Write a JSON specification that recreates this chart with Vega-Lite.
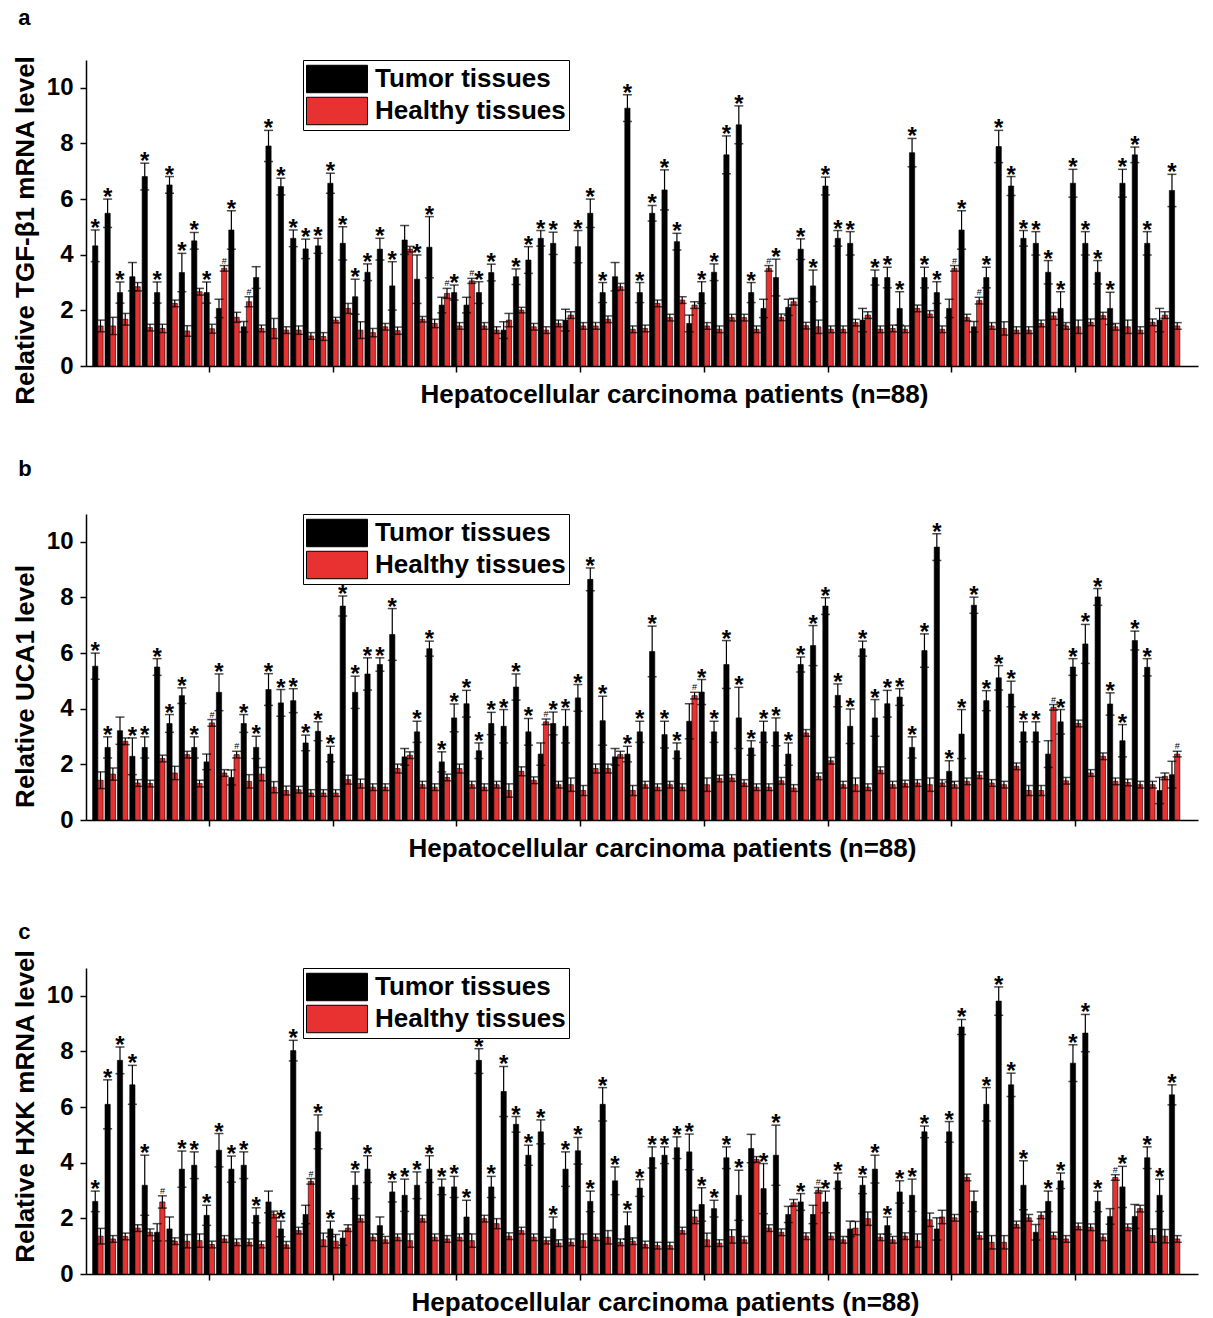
{
"$schema":"https://vega.github.io/schema/vega-lite/v6.json",
"background":"white",
"padding":{"left":12,"top":7,"right":5,"bottom":0},
"bounds":"flush",
"spacing":148,
"config":{
 "view":{"stroke":null},
 "font":"Liberation Sans",
 "title":{"anchor":"start","fontSize":22,"fontWeight":"bold","font":"Liberation Sans","offset":28,"frame":"bounds","dx":6,"color":"#000"},
 "axis":{"domainColor":"#000","tickColor":"#000","domainWidth":1.5,"tickWidth":1.5,"labelColor":"#000","titleColor":"#000","labelFont":"Liberation Sans","titleFont":"Liberation Sans","labelFontSize":24,"labelFontWeight":"bold","titleFontSize":26,"titleFontWeight":"bold","grid":false,"tickSize":6},
 "legend":{"orient":"none","legendX":217,"legendY":0,"title":null,"symbolType":"M-2,-0.9H2V0.9H-2Z","symbolSize":930,"symbolOffset":15,"symbolStrokeColor":"#000","symbolStrokeWidth":1,"labelFont":"Liberation Sans","labelFontSize":26,"labelFontWeight":"bold","labelColor":"#000","labelLimit":0,"strokeColor":"#000","fillColor":"#fff","padding":3,"rowPadding":0,"labelOffset":22}
},
"resolve":{"legend":{"color":"independent"}},
"datasets":{
"a":[
{"i":1,"g":"T","v":4.32,"lo":3.75,"hi":4.89,"s":"*"},{"i":1,"g":"H","v":1.44,"lo":1.23,"hi":1.65},
{"i":2,"g":"T","v":5.49,"lo":4.98,"hi":6.0,"s":"*"},{"i":2,"g":"H","v":1.44,"lo":1.13,"hi":1.75},
{"i":3,"g":"T","v":2.64,"lo":2.26,"hi":3.02,"s":"*"},{"i":3,"g":"H","v":1.68,"lo":1.47,"hi":1.89},
{"i":4,"g":"T","v":3.21,"lo":2.7,"hi":3.72},{"i":4,"g":"H","v":2.85,"lo":2.7,"hi":3.0},
{"i":5,"g":"T","v":6.81,"lo":6.33,"hi":7.29,"s":"*"},{"i":5,"g":"H","v":1.38,"lo":1.26,"hi":1.5},
{"i":6,"g":"T","v":2.64,"lo":2.26,"hi":3.02,"s":"*"},{"i":6,"g":"H","v":1.35,"lo":1.2,"hi":1.5},
{"i":7,"g":"T","v":6.51,"lo":6.21,"hi":6.81,"s":"*"},{"i":7,"g":"H","v":2.25,"lo":2.13,"hi":2.37},
{"i":8,"g":"T","v":3.36,"lo":2.67,"hi":4.05,"s":"*"},{"i":8,"g":"H","v":1.26,"lo":1.07,"hi":1.45},
{"i":9,"g":"T","v":4.5,"lo":4.2,"hi":4.8,"s":"*"},{"i":9,"g":"H","v":2.67,"lo":2.55,"hi":2.79},
{"i":10,"g":"T","v":2.64,"lo":2.26,"hi":3.02,"s":"*"},{"i":10,"g":"H","v":1.34,"lo":1.18,"hi":1.5},
{"i":11,"g":"T","v":2.07,"lo":1.74,"hi":2.4},{"i":11,"g":"H","v":3.51,"lo":3.41,"hi":3.61,"s":"#"},
{"i":12,"g":"T","v":4.89,"lo":4.2,"hi":5.58,"s":"*"},{"i":12,"g":"H","v":1.75,"lo":1.57,"hi":1.93},
{"i":13,"g":"T","v":1.41,"lo":1.22,"hi":1.6},{"i":13,"g":"H","v":2.31,"lo":2.13,"hi":2.49,"s":"#"},
{"i":14,"g":"T","v":3.18,"lo":2.79,"hi":3.57},{"i":14,"g":"H","v":1.35,"lo":1.23,"hi":1.47},
{"i":15,"g":"T","v":7.91,"lo":7.35,"hi":8.47,"s":"*"},{"i":15,"g":"H","v":1.35,"lo":0.99,"hi":1.71},
{"i":16,"g":"T","v":6.45,"lo":6.15,"hi":6.75,"s":"*"},{"i":16,"g":"H","v":1.29,"lo":1.17,"hi":1.41},
{"i":17,"g":"T","v":4.59,"lo":4.29,"hi":4.89,"s":"*"},{"i":17,"g":"H","v":1.29,"lo":1.14,"hi":1.44},
{"i":18,"g":"T","v":4.21,"lo":3.86,"hi":4.56,"s":"*"},{"i":18,"g":"H","v":1.08,"lo":0.96,"hi":1.2},
{"i":19,"g":"T","v":4.32,"lo":4.05,"hi":4.59,"s":"*"},{"i":19,"g":"H","v":1.06,"lo":0.92,"hi":1.2},
{"i":20,"g":"T","v":6.57,"lo":6.21,"hi":6.93,"s":"*"},{"i":20,"g":"H","v":1.65,"lo":1.55,"hi":1.75},
{"i":21,"g":"T","v":4.41,"lo":3.81,"hi":5.01,"s":"*"},{"i":21,"g":"H","v":2.07,"lo":1.89,"hi":2.25},
{"i":22,"g":"T","v":2.49,"lo":1.86,"hi":3.12,"s":"*"},{"i":22,"g":"H","v":1.29,"lo":0.99,"hi":1.59},
{"i":23,"g":"T","v":3.37,"lo":3.07,"hi":3.67,"s":"*"},{"i":23,"g":"H","v":1.2,"lo":1.05,"hi":1.35},
{"i":24,"g":"T","v":4.2,"lo":3.81,"hi":4.59,"s":"*"},{"i":24,"g":"H","v":1.41,"lo":1.29,"hi":1.53},
{"i":25,"g":"T","v":2.88,"lo":2.01,"hi":3.75,"s":"*"},{"i":25,"g":"H","v":1.27,"lo":1.14,"hi":1.4},
{"i":26,"g":"T","v":4.53,"lo":4.01,"hi":5.05},{"i":26,"g":"H","v":4.2,"lo":4.1,"hi":4.3},
{"i":27,"g":"T","v":3.12,"lo":2.25,"hi":3.99,"s":"*"},{"i":27,"g":"H","v":1.68,"lo":1.58,"hi":1.78},
{"i":28,"g":"T","v":4.27,"lo":3.17,"hi":5.37,"s":"*"},{"i":28,"g":"H","v":1.53,"lo":1.38,"hi":1.68},
{"i":29,"g":"T","v":2.19,"lo":1.91,"hi":2.47},{"i":29,"g":"H","v":2.61,"lo":2.43,"hi":2.79,"s":"#"},
{"i":30,"g":"T","v":2.64,"lo":2.37,"hi":2.91,"s":"*"},{"i":30,"g":"H","v":1.44,"lo":1.32,"hi":1.56},
{"i":31,"g":"T","v":2.19,"lo":1.91,"hi":2.47},{"i":31,"g":"H","v":3.06,"lo":2.97,"hi":3.15,"s":"#"},
{"i":32,"g":"T","v":2.64,"lo":2.25,"hi":3.03,"s":"*"},{"i":32,"g":"H","v":1.44,"lo":1.32,"hi":1.56},
{"i":33,"g":"T","v":3.36,"lo":3.06,"hi":3.66,"s":"*"},{"i":33,"g":"H","v":1.29,"lo":1.17,"hi":1.41},
{"i":34,"g":"T","v":1.29,"lo":0.99,"hi":1.59},{"i":34,"g":"H","v":1.65,"lo":1.41,"hi":1.89},
{"i":35,"g":"T","v":3.21,"lo":2.93,"hi":3.49,"s":"*"},{"i":35,"g":"H","v":2.01,"lo":1.91,"hi":2.11},
{"i":36,"g":"T","v":3.81,"lo":3.33,"hi":4.29,"s":"*"},{"i":36,"g":"H","v":1.41,"lo":1.29,"hi":1.53},
{"i":37,"g":"T","v":4.59,"lo":4.31,"hi":4.87,"s":"*"},{"i":37,"g":"H","v":1.29,"lo":1.17,"hi":1.41},
{"i":38,"g":"T","v":4.41,"lo":4.01,"hi":4.81,"s":"*"},{"i":38,"g":"H","v":1.53,"lo":1.41,"hi":1.65},
{"i":39,"g":"T","v":1.65,"lo":1.26,"hi":2.04},{"i":39,"g":"H","v":1.83,"lo":1.71,"hi":1.95},
{"i":40,"g":"T","v":4.29,"lo":3.71,"hi":4.87,"s":"*"},{"i":40,"g":"H","v":1.44,"lo":1.32,"hi":1.56},
{"i":41,"g":"T","v":5.49,"lo":4.98,"hi":6.0,"s":"*"},{"i":41,"g":"H","v":1.44,"lo":1.32,"hi":1.56},
{"i":42,"g":"T","v":2.64,"lo":2.28,"hi":3.0,"s":"*"},{"i":42,"g":"H","v":1.68,"lo":1.56,"hi":1.8},
{"i":43,"g":"T","v":3.21,"lo":2.7,"hi":3.72},{"i":43,"g":"H","v":2.85,"lo":2.73,"hi":2.97},
{"i":44,"g":"T","v":9.27,"lo":8.79,"hi":9.75,"s":"*"},{"i":44,"g":"H","v":1.32,"lo":1.2,"hi":1.44},
{"i":45,"g":"T","v":2.64,"lo":2.28,"hi":3.0,"s":"*"},{"i":45,"g":"H","v":1.35,"lo":1.23,"hi":1.47},
{"i":46,"g":"T","v":5.49,"lo":5.21,"hi":5.77,"s":"*"},{"i":46,"g":"H","v":2.25,"lo":2.13,"hi":2.37},
{"i":47,"g":"T","v":6.33,"lo":5.61,"hi":7.05,"s":"*"},{"i":47,"g":"H","v":1.74,"lo":1.62,"hi":1.86},
{"i":48,"g":"T","v":4.47,"lo":4.17,"hi":4.77,"s":"*"},{"i":48,"g":"H","v":2.37,"lo":2.25,"hi":2.49},
{"i":49,"g":"T","v":1.53,"lo":1.23,"hi":1.83},{"i":49,"g":"H","v":2.19,"lo":2.07,"hi":2.31},
{"i":50,"g":"T","v":2.64,"lo":2.25,"hi":3.03,"s":"*"},{"i":50,"g":"H","v":1.44,"lo":1.32,"hi":1.56},
{"i":51,"g":"T","v":3.37,"lo":3.07,"hi":3.67,"s":"*"},{"i":51,"g":"H","v":1.32,"lo":1.2,"hi":1.44},
{"i":52,"g":"T","v":7.59,"lo":6.91,"hi":8.27,"s":"*"},{"i":52,"g":"H","v":1.74,"lo":1.62,"hi":1.86},
{"i":53,"g":"T","v":8.67,"lo":7.99,"hi":9.35,"s":"*"},{"i":53,"g":"H","v":1.74,"lo":1.62,"hi":1.86},
{"i":54,"g":"T","v":2.64,"lo":2.28,"hi":3.0,"s":"*"},{"i":54,"g":"H","v":1.32,"lo":1.2,"hi":1.44},
{"i":55,"g":"T","v":2.07,"lo":1.74,"hi":2.4},{"i":55,"g":"H","v":3.51,"lo":3.41,"hi":3.61,"s":"#"},
{"i":56,"g":"T","v":3.18,"lo":2.52,"hi":3.84,"s":"*"},{"i":56,"g":"H","v":1.75,"lo":1.63,"hi":1.87},
{"i":57,"g":"T","v":2.11,"lo":1.82,"hi":2.4},{"i":57,"g":"H","v":2.31,"lo":2.19,"hi":2.43},
{"i":58,"g":"T","v":4.2,"lo":3.83,"hi":4.57,"s":"*"},{"i":58,"g":"H","v":1.45,"lo":1.33,"hi":1.57},
{"i":59,"g":"T","v":2.88,"lo":2.31,"hi":3.45,"s":"*"},{"i":59,"g":"H","v":1.41,"lo":1.17,"hi":1.65},
{"i":60,"g":"T","v":6.47,"lo":6.15,"hi":6.79,"s":"*"},{"i":60,"g":"H","v":1.32,"lo":1.2,"hi":1.44},
{"i":61,"g":"T","v":4.59,"lo":4.31,"hi":4.87,"s":"*"},{"i":61,"g":"H","v":1.32,"lo":1.2,"hi":1.44},
{"i":62,"g":"T","v":4.41,"lo":3.99,"hi":4.83,"s":"*"},{"i":62,"g":"H","v":1.56,"lo":1.44,"hi":1.68},
{"i":63,"g":"T","v":1.65,"lo":1.23,"hi":2.07},{"i":63,"g":"H","v":1.83,"lo":1.71,"hi":1.95},
{"i":64,"g":"T","v":3.18,"lo":2.91,"hi":3.45,"s":"*"},{"i":64,"g":"H","v":1.32,"lo":1.2,"hi":1.44},
{"i":65,"g":"T","v":3.18,"lo":2.81,"hi":3.55,"s":"*"},{"i":65,"g":"H","v":1.35,"lo":1.23,"hi":1.47},
{"i":66,"g":"T","v":2.07,"lo":1.47,"hi":2.67,"s":"*"},{"i":66,"g":"H","v":1.32,"lo":1.2,"hi":1.44},
{"i":67,"g":"T","v":7.67,"lo":7.16,"hi":8.18,"s":"*"},{"i":67,"g":"H","v":2.07,"lo":1.95,"hi":2.19},
{"i":68,"g":"T","v":3.18,"lo":2.81,"hi":3.55,"s":"*"},{"i":68,"g":"H","v":1.87,"lo":1.75,"hi":1.99},
{"i":69,"g":"T","v":2.64,"lo":2.25,"hi":3.03,"s":"*"},{"i":69,"g":"H","v":1.32,"lo":1.2,"hi":1.44},
{"i":70,"g":"T","v":2.07,"lo":1.74,"hi":2.4},{"i":70,"g":"H","v":3.51,"lo":3.41,"hi":3.61,"s":"#"},
{"i":71,"g":"T","v":4.89,"lo":4.2,"hi":5.58,"s":"*"},{"i":71,"g":"H","v":1.74,"lo":1.62,"hi":1.86},
{"i":72,"g":"T","v":1.41,"lo":1.22,"hi":1.6},{"i":72,"g":"H","v":2.35,"lo":2.23,"hi":2.47,"s":"#"},
{"i":73,"g":"T","v":3.18,"lo":2.81,"hi":3.55,"s":"*"},{"i":73,"g":"H","v":1.44,"lo":1.32,"hi":1.56},
{"i":74,"g":"T","v":7.89,"lo":7.31,"hi":8.47,"s":"*"},{"i":74,"g":"H","v":1.35,"lo":1.11,"hi":1.59},
{"i":75,"g":"T","v":6.47,"lo":6.13,"hi":6.81,"s":"*"},{"i":75,"g":"H","v":1.29,"lo":1.17,"hi":1.41},
{"i":76,"g":"T","v":4.59,"lo":4.31,"hi":4.87,"s":"*"},{"i":76,"g":"H","v":1.29,"lo":1.17,"hi":1.41},
{"i":77,"g":"T","v":4.41,"lo":3.99,"hi":4.83,"s":"*"},{"i":77,"g":"H","v":1.53,"lo":1.41,"hi":1.65},
{"i":78,"g":"T","v":3.37,"lo":2.95,"hi":3.79,"s":"*"},{"i":78,"g":"H","v":1.8,"lo":1.68,"hi":1.92},
{"i":79,"g":"T","v":2.07,"lo":1.47,"hi":2.67,"s":"*"},{"i":79,"g":"H","v":1.44,"lo":1.32,"hi":1.56},
{"i":80,"g":"T","v":6.57,"lo":6.07,"hi":7.07,"s":"*"},{"i":80,"g":"H","v":1.41,"lo":1.17,"hi":1.65},
{"i":81,"g":"T","v":4.41,"lo":3.99,"hi":4.83,"s":"*"},{"i":81,"g":"H","v":1.57,"lo":1.45,"hi":1.69},
{"i":82,"g":"T","v":3.37,"lo":2.95,"hi":3.79,"s":"*"},{"i":82,"g":"H","v":1.81,"lo":1.69,"hi":1.93},
{"i":83,"g":"T","v":2.07,"lo":1.49,"hi":2.65,"s":"*"},{"i":83,"g":"H","v":1.41,"lo":1.29,"hi":1.53},
{"i":84,"g":"T","v":6.57,"lo":6.07,"hi":7.07,"s":"*"},{"i":84,"g":"H","v":1.41,"lo":1.17,"hi":1.65},
{"i":85,"g":"T","v":7.59,"lo":7.31,"hi":7.87,"s":"*"},{"i":85,"g":"H","v":1.29,"lo":1.17,"hi":1.41},
{"i":86,"g":"T","v":4.41,"lo":3.99,"hi":4.83,"s":"*"},{"i":86,"g":"H","v":1.57,"lo":1.45,"hi":1.69},
{"i":87,"g":"T","v":1.65,"lo":1.23,"hi":2.07},{"i":87,"g":"H","v":1.83,"lo":1.71,"hi":1.95},
{"i":88,"g":"T","v":6.31,"lo":5.73,"hi":6.89,"s":"*"},{"i":88,"g":"H","v":1.44,"lo":1.32,"hi":1.56}
],
"b":[
{"i":1,"g":"T","v":5.53,"lo":5.06,"hi":6.0,"s":"*"},{"i":1,"g":"H","v":1.43,"lo":1.13,"hi":1.73},
{"i":2,"g":"T","v":2.61,"lo":2.23,"hi":2.99,"s":"*"},{"i":2,"g":"H","v":1.65,"lo":1.43,"hi":1.87},
{"i":3,"g":"T","v":3.21,"lo":2.72,"hi":3.7},{"i":3,"g":"H","v":2.83,"lo":2.71,"hi":2.95},
{"i":4,"g":"T","v":2.29,"lo":1.63,"hi":2.95,"s":"*"},{"i":4,"g":"H","v":1.33,"lo":1.21,"hi":1.45},
{"i":5,"g":"T","v":2.61,"lo":2.23,"hi":2.99,"s":"*"},{"i":5,"g":"H","v":1.31,"lo":1.19,"hi":1.43},
{"i":6,"g":"T","v":5.5,"lo":5.2,"hi":5.8,"s":"*"},{"i":6,"g":"H","v":2.21,"lo":2.09,"hi":2.33},
{"i":7,"g":"T","v":3.47,"lo":3.15,"hi":3.79,"s":"*"},{"i":7,"g":"H","v":1.69,"lo":1.45,"hi":1.93},
{"i":8,"g":"T","v":4.47,"lo":4.19,"hi":4.75,"s":"*"},{"i":8,"g":"H","v":2.35,"lo":2.23,"hi":2.47},
{"i":9,"g":"T","v":2.61,"lo":2.23,"hi":2.99,"s":"*"},{"i":9,"g":"H","v":1.31,"lo":1.19,"hi":1.43},
{"i":10,"g":"T","v":2.09,"lo":1.81,"hi":2.37},{"i":10,"g":"H","v":3.49,"lo":3.37,"hi":3.61,"s":"#"},
{"i":11,"g":"T","v":4.59,"lo":3.93,"hi":5.25,"s":"*"},{"i":11,"g":"H","v":1.69,"lo":1.57,"hi":1.81},
{"i":12,"g":"T","v":1.53,"lo":1.26,"hi":1.8},{"i":12,"g":"H","v":2.35,"lo":2.23,"hi":2.47,"s":"#"},
{"i":13,"g":"T","v":3.47,"lo":3.15,"hi":3.79,"s":"*"},{"i":13,"g":"H","v":1.39,"lo":1.15,"hi":1.63},
{"i":14,"g":"T","v":2.61,"lo":2.21,"hi":3.01,"s":"*"},{"i":14,"g":"H","v":1.65,"lo":1.41,"hi":1.89},
{"i":15,"g":"T","v":4.69,"lo":4.12,"hi":5.26,"s":"*"},{"i":15,"g":"H","v":1.18,"lo":0.98,"hi":1.38},
{"i":16,"g":"T","v":4.21,"lo":3.73,"hi":4.69,"s":"*"},{"i":16,"g":"H","v":1.06,"lo":0.9,"hi":1.22},
{"i":17,"g":"T","v":4.29,"lo":3.86,"hi":4.72,"s":"*"},{"i":17,"g":"H","v":1.09,"lo":0.97,"hi":1.21},
{"i":18,"g":"T","v":2.77,"lo":2.49,"hi":3.05,"s":"*"},{"i":18,"g":"H","v":0.97,"lo":0.85,"hi":1.09},
{"i":19,"g":"T","v":3.19,"lo":2.85,"hi":3.53,"s":"*"},{"i":19,"g":"H","v":0.97,"lo":0.85,"hi":1.09},
{"i":20,"g":"T","v":2.37,"lo":2.09,"hi":2.65,"s":"*"},{"i":20,"g":"H","v":0.97,"lo":0.85,"hi":1.09},
{"i":21,"g":"T","v":7.69,"lo":7.33,"hi":8.05,"s":"*"},{"i":21,"g":"H","v":1.45,"lo":1.29,"hi":1.61},
{"i":22,"g":"T","v":4.59,"lo":4.01,"hi":5.17,"s":"*"},{"i":22,"g":"H","v":1.31,"lo":1.15,"hi":1.47},
{"i":23,"g":"T","v":5.25,"lo":4.67,"hi":5.83,"s":"*"},{"i":23,"g":"H","v":1.18,"lo":1.06,"hi":1.3},
{"i":24,"g":"T","v":5.59,"lo":5.35,"hi":5.83,"s":"*"},{"i":24,"g":"H","v":1.18,"lo":1.06,"hi":1.3},
{"i":25,"g":"T","v":6.67,"lo":5.74,"hi":7.6,"s":"*"},{"i":25,"g":"H","v":1.85,"lo":1.69,"hi":2.01},
{"i":26,"g":"T","v":2.27,"lo":1.97,"hi":2.57},{"i":26,"g":"H","v":2.33,"lo":2.21,"hi":2.45},
{"i":27,"g":"T","v":3.17,"lo":2.79,"hi":3.55,"s":"*"},{"i":27,"g":"H","v":1.27,"lo":1.15,"hi":1.39},
{"i":28,"g":"T","v":6.16,"lo":5.89,"hi":6.43,"s":"*"},{"i":28,"g":"H","v":1.18,"lo":1.06,"hi":1.3},
{"i":29,"g":"T","v":2.09,"lo":1.73,"hi":2.45,"s":"*"},{"i":29,"g":"H","v":1.53,"lo":1.41,"hi":1.65},
{"i":30,"g":"T","v":3.67,"lo":3.17,"hi":4.17,"s":"*"},{"i":30,"g":"H","v":1.85,"lo":1.69,"hi":2.01},
{"i":31,"g":"T","v":4.18,"lo":3.7,"hi":4.66,"s":"*"},{"i":31,"g":"H","v":1.27,"lo":1.15,"hi":1.39},
{"i":32,"g":"T","v":2.49,"lo":2.21,"hi":2.77,"s":"*"},{"i":32,"g":"H","v":1.18,"lo":1.06,"hi":1.3},
{"i":33,"g":"T","v":3.47,"lo":3.07,"hi":3.87,"s":"*"},{"i":33,"g":"H","v":1.27,"lo":1.15,"hi":1.39},
{"i":34,"g":"T","v":3.37,"lo":2.77,"hi":3.97,"s":"*"},{"i":34,"g":"H","v":1.06,"lo":0.82,"hi":1.3},
{"i":35,"g":"T","v":4.78,"lo":4.31,"hi":5.25,"s":"*"},{"i":35,"g":"H","v":1.75,"lo":1.59,"hi":1.91},
{"i":36,"g":"T","v":3.17,"lo":2.69,"hi":3.65,"s":"*"},{"i":36,"g":"H","v":1.43,"lo":1.31,"hi":1.55},
{"i":37,"g":"T","v":2.37,"lo":1.97,"hi":2.77},{"i":37,"g":"H","v":3.53,"lo":3.43,"hi":3.63,"s":"#"},
{"i":38,"g":"T","v":3.47,"lo":3.06,"hi":3.88,"s":"*"},{"i":38,"g":"H","v":1.27,"lo":1.15,"hi":1.39},
{"i":39,"g":"T","v":3.37,"lo":2.77,"hi":3.97,"s":"*"},{"i":39,"g":"H","v":1.27,"lo":1.03,"hi":1.51},
{"i":40,"g":"T","v":4.39,"lo":3.91,"hi":4.87,"s":"*"},{"i":40,"g":"H","v":1.06,"lo":0.88,"hi":1.24},
{"i":41,"g":"T","v":8.65,"lo":8.24,"hi":9.06,"s":"*"},{"i":41,"g":"H","v":1.85,"lo":1.69,"hi":2.01},
{"i":42,"g":"T","v":3.57,"lo":2.69,"hi":4.45,"s":"*"},{"i":42,"g":"H","v":1.85,"lo":1.69,"hi":2.01},
{"i":43,"g":"T","v":2.27,"lo":1.97,"hi":2.57},{"i":43,"g":"H","v":2.35,"lo":2.23,"hi":2.47},
{"i":44,"g":"T","v":2.37,"lo":2.09,"hi":2.65,"s":"*"},{"i":44,"g":"H","v":1.06,"lo":0.88,"hi":1.24},
{"i":45,"g":"T","v":3.17,"lo":2.79,"hi":3.55,"s":"*"},{"i":45,"g":"H","v":1.27,"lo":1.15,"hi":1.39},
{"i":46,"g":"T","v":6.06,"lo":5.15,"hi":6.97,"s":"*"},{"i":46,"g":"H","v":1.18,"lo":1.06,"hi":1.3},
{"i":47,"g":"T","v":3.07,"lo":2.59,"hi":3.55,"s":"*"},{"i":47,"g":"H","v":1.27,"lo":1.15,"hi":1.39},
{"i":48,"g":"T","v":2.49,"lo":2.21,"hi":2.77,"s":"*"},{"i":48,"g":"H","v":1.18,"lo":1.06,"hi":1.3},
{"i":49,"g":"T","v":3.55,"lo":2.92,"hi":4.18},{"i":49,"g":"H","v":4.47,"lo":4.35,"hi":4.59,"s":"#"},
{"i":50,"g":"T","v":4.6,"lo":4.15,"hi":5.05,"s":"*"},{"i":50,"g":"H","v":1.27,"lo":1.03,"hi":1.51},
{"i":51,"g":"T","v":3.17,"lo":2.79,"hi":3.55,"s":"*"},{"i":51,"g":"H","v":1.49,"lo":1.37,"hi":1.61},
{"i":52,"g":"T","v":5.59,"lo":4.73,"hi":6.45,"s":"*"},{"i":52,"g":"H","v":1.51,"lo":1.39,"hi":1.63},
{"i":53,"g":"T","v":3.67,"lo":2.57,"hi":4.77,"s":"*"},{"i":53,"g":"H","v":1.33,"lo":1.21,"hi":1.45},
{"i":54,"g":"T","v":2.59,"lo":2.33,"hi":2.85,"s":"*"},{"i":54,"g":"H","v":1.18,"lo":1.06,"hi":1.3},
{"i":55,"g":"T","v":3.17,"lo":2.79,"hi":3.55,"s":"*"},{"i":55,"g":"H","v":1.18,"lo":1.06,"hi":1.3},
{"i":56,"g":"T","v":3.17,"lo":2.67,"hi":3.67,"s":"*"},{"i":56,"g":"H","v":1.41,"lo":1.29,"hi":1.53},
{"i":57,"g":"T","v":2.37,"lo":1.97,"hi":2.77,"s":"*"},{"i":57,"g":"H","v":1.15,"lo":1.03,"hi":1.27},
{"i":58,"g":"T","v":5.59,"lo":5.32,"hi":5.86,"s":"*"},{"i":58,"g":"H","v":3.13,"lo":3.01,"hi":3.25},
{"i":59,"g":"T","v":6.27,"lo":5.55,"hi":6.99,"s":"*"},{"i":59,"g":"H","v":1.57,"lo":1.45,"hi":1.69},
{"i":60,"g":"T","v":7.69,"lo":7.39,"hi":7.99,"s":"*"},{"i":60,"g":"H","v":2.13,"lo":2.01,"hi":2.25},
{"i":61,"g":"T","v":4.48,"lo":4.07,"hi":4.89,"s":"*"},{"i":61,"g":"H","v":1.27,"lo":1.15,"hi":1.39},
{"i":62,"g":"T","v":3.37,"lo":2.75,"hi":3.99,"s":"*"},{"i":62,"g":"H","v":1.27,"lo":1.03,"hi":1.51},
{"i":63,"g":"T","v":6.16,"lo":5.89,"hi":6.43,"s":"*"},{"i":63,"g":"H","v":1.18,"lo":1.06,"hi":1.3},
{"i":64,"g":"T","v":3.67,"lo":3.01,"hi":4.33,"s":"*"},{"i":64,"g":"H","v":1.79,"lo":1.67,"hi":1.91},
{"i":65,"g":"T","v":4.18,"lo":3.7,"hi":4.66,"s":"*"},{"i":65,"g":"H","v":1.27,"lo":1.15,"hi":1.39},
{"i":66,"g":"T","v":4.42,"lo":4.12,"hi":4.72,"s":"*"},{"i":66,"g":"H","v":1.31,"lo":1.19,"hi":1.43},
{"i":67,"g":"T","v":2.61,"lo":2.23,"hi":2.99,"s":"*"},{"i":67,"g":"H","v":1.33,"lo":1.21,"hi":1.45},
{"i":68,"g":"T","v":6.09,"lo":5.49,"hi":6.69,"s":"*"},{"i":68,"g":"H","v":1.27,"lo":1.03,"hi":1.51},
{"i":69,"g":"T","v":9.81,"lo":9.33,"hi":10.29,"s":"*"},{"i":69,"g":"H","v":1.33,"lo":1.21,"hi":1.45},
{"i":70,"g":"T","v":1.75,"lo":1.37,"hi":2.13,"s":"*"},{"i":70,"g":"H","v":1.27,"lo":1.15,"hi":1.39},
{"i":71,"g":"T","v":3.09,"lo":2.21,"hi":3.97,"s":"*"},{"i":71,"g":"H","v":1.39,"lo":1.27,"hi":1.51},
{"i":72,"g":"T","v":7.72,"lo":7.43,"hi":8.01,"s":"*"},{"i":72,"g":"H","v":1.61,"lo":1.49,"hi":1.73},
{"i":73,"g":"T","v":4.29,"lo":3.93,"hi":4.65,"s":"*"},{"i":73,"g":"H","v":1.33,"lo":1.21,"hi":1.45},
{"i":74,"g":"T","v":5.11,"lo":4.67,"hi":5.55,"s":"*"},{"i":74,"g":"H","v":1.27,"lo":1.15,"hi":1.39},
{"i":75,"g":"T","v":4.53,"lo":4.07,"hi":4.99,"s":"*"},{"i":75,"g":"H","v":1.93,"lo":1.81,"hi":2.05},
{"i":76,"g":"T","v":3.17,"lo":2.81,"hi":3.53,"s":"*"},{"i":76,"g":"H","v":1.06,"lo":0.88,"hi":1.24},
{"i":77,"g":"T","v":3.17,"lo":2.81,"hi":3.53,"s":"*"},{"i":77,"g":"H","v":1.06,"lo":0.88,"hi":1.24},
{"i":78,"g":"T","v":2.37,"lo":1.89,"hi":2.85},{"i":78,"g":"H","v":4.05,"lo":3.95,"hi":4.15,"s":"#"},
{"i":79,"g":"T","v":3.53,"lo":3.09,"hi":3.97,"s":"*"},{"i":79,"g":"H","v":1.41,"lo":1.29,"hi":1.53},
{"i":80,"g":"T","v":5.5,"lo":5.2,"hi":5.8,"s":"*"},{"i":80,"g":"H","v":3.47,"lo":3.35,"hi":3.59},
{"i":81,"g":"T","v":6.33,"lo":5.63,"hi":7.03,"s":"*"},{"i":81,"g":"H","v":1.69,"lo":1.57,"hi":1.81},
{"i":82,"g":"T","v":8.02,"lo":7.72,"hi":8.32,"s":"*"},{"i":82,"g":"H","v":2.29,"lo":2.17,"hi":2.41},
{"i":83,"g":"T","v":4.17,"lo":3.77,"hi":4.57,"s":"*"},{"i":83,"g":"H","v":1.39,"lo":1.27,"hi":1.51},
{"i":84,"g":"T","v":2.85,"lo":2.27,"hi":3.43,"s":"*"},{"i":84,"g":"H","v":1.35,"lo":1.23,"hi":1.47},
{"i":85,"g":"T","v":6.45,"lo":6.11,"hi":6.79,"s":"*"},{"i":85,"g":"H","v":1.27,"lo":1.15,"hi":1.39},
{"i":86,"g":"T","v":5.49,"lo":5.18,"hi":5.8,"s":"*"},{"i":86,"g":"H","v":1.27,"lo":1.15,"hi":1.39},
{"i":87,"g":"T","v":1.06,"lo":0.59,"hi":1.53},{"i":87,"g":"H","v":1.57,"lo":1.45,"hi":1.69},
{"i":88,"g":"T","v":1.63,"lo":1.15,"hi":2.11},{"i":88,"g":"H","v":2.37,"lo":2.27,"hi":2.47,"s":"#"}
],
"c":[
{"i":1,"g":"T","v":2.61,"lo":2.24,"hi":2.98,"s":"*"},{"i":1,"g":"H","v":1.36,"lo":1.08,"hi":1.64},
{"i":2,"g":"T","v":6.1,"lo":5.22,"hi":6.98,"s":"*"},{"i":2,"g":"H","v":1.26,"lo":1.14,"hi":1.38},
{"i":3,"g":"T","v":7.68,"lo":7.2,"hi":8.16,"s":"*"},{"i":3,"g":"H","v":1.35,"lo":1.23,"hi":1.47},
{"i":4,"g":"T","v":6.8,"lo":6.1,"hi":7.5,"s":"*"},{"i":4,"g":"H","v":1.65,"lo":1.53,"hi":1.77},
{"i":5,"g":"T","v":3.19,"lo":2.11,"hi":4.27,"s":"*"},{"i":5,"g":"H","v":1.5,"lo":1.38,"hi":1.62},
{"i":6,"g":"T","v":1.5,"lo":1.19,"hi":1.81},{"i":6,"g":"H","v":2.59,"lo":2.37,"hi":2.81,"s":"#"},
{"i":7,"g":"T","v":1.62,"lo":1.19,"hi":2.05},{"i":7,"g":"H","v":1.18,"lo":1.06,"hi":1.3},
{"i":8,"g":"T","v":3.77,"lo":3.12,"hi":4.42,"s":"*"},{"i":8,"g":"H","v":1.18,"lo":0.94,"hi":1.42},
{"i":9,"g":"T","v":3.91,"lo":3.43,"hi":4.39,"s":"*"},{"i":9,"g":"H","v":1.2,"lo":0.96,"hi":1.44},
{"i":10,"g":"T","v":2.11,"lo":1.75,"hi":2.47,"s":"*"},{"i":10,"g":"H","v":1.06,"lo":0.94,"hi":1.18},
{"i":11,"g":"T","v":4.45,"lo":3.85,"hi":5.05,"s":"*"},{"i":11,"g":"H","v":1.26,"lo":1.14,"hi":1.38},
{"i":12,"g":"T","v":3.77,"lo":3.3,"hi":4.24,"s":"*"},{"i":12,"g":"H","v":1.14,"lo":1.02,"hi":1.26},
{"i":13,"g":"T","v":3.91,"lo":3.43,"hi":4.39,"s":"*"},{"i":13,"g":"H","v":1.14,"lo":1.02,"hi":1.26},
{"i":14,"g":"T","v":2.11,"lo":1.84,"hi":2.38,"s":"*"},{"i":14,"g":"H","v":1.06,"lo":0.94,"hi":1.18},
{"i":15,"g":"T","v":2.59,"lo":2.2,"hi":2.98},{"i":15,"g":"H","v":2.14,"lo":2.02,"hi":2.26},
{"i":16,"g":"T","v":1.62,"lo":1.34,"hi":1.9,"s":"*"},{"i":16,"g":"H","v":1.05,"lo":0.93,"hi":1.17},
{"i":17,"g":"T","v":8.03,"lo":7.66,"hi":8.4,"s":"*"},{"i":17,"g":"H","v":1.56,"lo":1.44,"hi":1.68},
{"i":18,"g":"T","v":2.14,"lo":1.81,"hi":2.47},{"i":18,"g":"H","v":3.33,"lo":3.23,"hi":3.43,"s":"#"},
{"i":19,"g":"T","v":5.11,"lo":4.5,"hi":5.72,"s":"*"},{"i":19,"g":"H","v":1.23,"lo":0.99,"hi":1.47},
{"i":20,"g":"T","v":1.62,"lo":1.34,"hi":1.9,"s":"*"},{"i":20,"g":"H","v":1.18,"lo":0.94,"hi":1.42},
{"i":21,"g":"T","v":1.29,"lo":1.03,"hi":1.55},{"i":21,"g":"H","v":1.65,"lo":1.53,"hi":1.77},
{"i":22,"g":"T","v":3.19,"lo":2.71,"hi":3.67,"s":"*"},{"i":22,"g":"H","v":1.99,"lo":1.87,"hi":2.11},
{"i":23,"g":"T","v":3.77,"lo":3.29,"hi":4.25,"s":"*"},{"i":23,"g":"H","v":1.32,"lo":1.2,"hi":1.44},
{"i":24,"g":"T","v":1.74,"lo":1.43,"hi":2.05},{"i":24,"g":"H","v":1.23,"lo":1.11,"hi":1.35},
{"i":25,"g":"T","v":2.95,"lo":2.59,"hi":3.31,"s":"*"},{"i":25,"g":"H","v":1.32,"lo":1.2,"hi":1.44},
{"i":26,"g":"T","v":2.83,"lo":2.25,"hi":3.41,"s":"*"},{"i":26,"g":"H","v":1.2,"lo":0.96,"hi":1.44},
{"i":27,"g":"T","v":3.19,"lo":2.71,"hi":3.67,"s":"*"},{"i":27,"g":"H","v":1.99,"lo":1.87,"hi":2.11},
{"i":28,"g":"T","v":3.77,"lo":3.29,"hi":4.25,"s":"*"},{"i":28,"g":"H","v":1.32,"lo":1.2,"hi":1.44},
{"i":29,"g":"T","v":3.13,"lo":2.85,"hi":3.41,"s":"*"},{"i":29,"g":"H","v":1.26,"lo":1.14,"hi":1.38},
{"i":30,"g":"T","v":3.13,"lo":2.75,"hi":3.51,"s":"*"},{"i":30,"g":"H","v":1.32,"lo":1.2,"hi":1.44},
{"i":31,"g":"T","v":2.05,"lo":1.45,"hi":2.65,"s":"*"},{"i":31,"g":"H","v":1.2,"lo":0.96,"hi":1.44},
{"i":32,"g":"T","v":7.68,"lo":7.21,"hi":8.1,"s":"*"},{"i":32,"g":"H","v":1.99,"lo":1.87,"hi":2.11},
{"i":33,"g":"T","v":3.13,"lo":2.75,"hi":3.51,"s":"*"},{"i":33,"g":"H","v":1.81,"lo":1.63,"hi":1.99},
{"i":34,"g":"T","v":6.56,"lo":5.66,"hi":7.46,"s":"*"},{"i":34,"g":"H","v":1.36,"lo":1.24,"hi":1.48},
{"i":35,"g":"T","v":5.38,"lo":5.1,"hi":5.66,"s":"*"},{"i":35,"g":"H","v":1.56,"lo":1.44,"hi":1.68},
{"i":36,"g":"T","v":4.27,"lo":3.91,"hi":4.63,"s":"*"},{"i":36,"g":"H","v":1.32,"lo":1.2,"hi":1.44},
{"i":37,"g":"T","v":5.11,"lo":4.68,"hi":5.54,"s":"*"},{"i":37,"g":"H","v":1.2,"lo":1.08,"hi":1.32},
{"i":38,"g":"T","v":1.62,"lo":1.19,"hi":2.05,"s":"*"},{"i":38,"g":"H","v":1.11,"lo":0.99,"hi":1.23},
{"i":39,"g":"T","v":3.77,"lo":3.15,"hi":4.39,"s":"*"},{"i":39,"g":"H","v":1.14,"lo":1.02,"hi":1.26},
{"i":40,"g":"T","v":4.43,"lo":3.95,"hi":4.91,"s":"*"},{"i":40,"g":"H","v":1.2,"lo":0.96,"hi":1.44},
{"i":41,"g":"T","v":2.61,"lo":2.24,"hi":2.98,"s":"*"},{"i":41,"g":"H","v":1.32,"lo":1.2,"hi":1.44},
{"i":42,"g":"T","v":6.1,"lo":5.5,"hi":6.7,"s":"*"},{"i":42,"g":"H","v":1.32,"lo":1.08,"hi":1.56},
{"i":43,"g":"T","v":3.35,"lo":2.85,"hi":3.85,"s":"*"},{"i":43,"g":"H","v":1.14,"lo":1.02,"hi":1.26},
{"i":44,"g":"T","v":1.74,"lo":1.25,"hi":2.23,"s":"*"},{"i":44,"g":"H","v":1.18,"lo":1.06,"hi":1.3},
{"i":45,"g":"T","v":3.09,"lo":2.79,"hi":3.39,"s":"*"},{"i":45,"g":"H","v":1.06,"lo":0.94,"hi":1.18},
{"i":46,"g":"T","v":4.19,"lo":3.81,"hi":4.57,"s":"*"},{"i":46,"g":"H","v":1.02,"lo":0.9,"hi":1.14},
{"i":47,"g":"T","v":4.27,"lo":3.97,"hi":4.57,"s":"*"},{"i":47,"g":"H","v":1.02,"lo":0.9,"hi":1.14},
{"i":48,"g":"T","v":4.54,"lo":4.15,"hi":4.93,"s":"*"},{"i":48,"g":"H","v":1.56,"lo":1.44,"hi":1.68},
{"i":49,"g":"T","v":4.39,"lo":3.75,"hi":5.03,"s":"*"},{"i":49,"g":"H","v":2.05,"lo":1.81,"hi":2.29},
{"i":50,"g":"T","v":2.5,"lo":1.9,"hi":3.1,"s":"*"},{"i":50,"g":"H","v":1.23,"lo":0.99,"hi":1.47},
{"i":51,"g":"T","v":2.35,"lo":2.05,"hi":2.65,"s":"*"},{"i":51,"g":"H","v":1.11,"lo":0.99,"hi":1.23},
{"i":52,"g":"T","v":4.18,"lo":3.79,"hi":4.57,"s":"*"},{"i":52,"g":"H","v":1.35,"lo":1.11,"hi":1.59},
{"i":53,"g":"T","v":2.83,"lo":1.93,"hi":3.73,"s":"*"},{"i":53,"g":"H","v":1.23,"lo":1.11,"hi":1.35},
{"i":54,"g":"T","v":4.51,"lo":4.0,"hi":5.02},{"i":54,"g":"H","v":4.12,"lo":4.02,"hi":4.22},
{"i":55,"g":"T","v":3.07,"lo":2.17,"hi":3.97,"s":"*"},{"i":55,"g":"H","v":1.65,"lo":1.53,"hi":1.77},
{"i":56,"g":"T","v":4.27,"lo":3.19,"hi":5.35,"s":"*"},{"i":56,"g":"H","v":1.5,"lo":1.38,"hi":1.62},
{"i":57,"g":"T","v":2.14,"lo":1.85,"hi":2.43},{"i":57,"g":"H","v":2.56,"lo":2.44,"hi":2.68},
{"i":58,"g":"T","v":2.59,"lo":2.29,"hi":2.89,"s":"*"},{"i":58,"g":"H","v":1.36,"lo":1.24,"hi":1.48},
{"i":59,"g":"T","v":2.14,"lo":1.81,"hi":2.47},{"i":59,"g":"H","v":3.01,"lo":2.91,"hi":3.11,"s":"#"},
{"i":60,"g":"T","v":2.59,"lo":2.2,"hi":2.98,"s":"*"},{"i":60,"g":"H","v":1.36,"lo":1.24,"hi":1.48},
{"i":61,"g":"T","v":3.35,"lo":3.07,"hi":3.63,"s":"*"},{"i":61,"g":"H","v":1.23,"lo":1.11,"hi":1.35},
{"i":62,"g":"T","v":1.62,"lo":1.34,"hi":1.9},{"i":62,"g":"H","v":1.65,"lo":1.41,"hi":1.89},
{"i":63,"g":"T","v":3.19,"lo":2.89,"hi":3.49,"s":"*"},{"i":63,"g":"H","v":1.99,"lo":1.75,"hi":2.23},
{"i":64,"g":"T","v":3.77,"lo":3.27,"hi":4.27,"s":"*"},{"i":64,"g":"H","v":1.32,"lo":1.2,"hi":1.44},
{"i":65,"g":"T","v":1.74,"lo":1.43,"hi":2.05,"s":"*"},{"i":65,"g":"H","v":1.23,"lo":1.11,"hi":1.35},
{"i":66,"g":"T","v":2.95,"lo":2.55,"hi":3.35,"s":"*"},{"i":66,"g":"H","v":1.36,"lo":1.24,"hi":1.48},
{"i":67,"g":"T","v":2.83,"lo":2.25,"hi":3.41,"s":"*"},{"i":67,"g":"H","v":1.2,"lo":0.96,"hi":1.44},
{"i":68,"g":"T","v":5.11,"lo":4.9,"hi":5.32,"s":"*"},{"i":68,"g":"H","v":1.95,"lo":1.71,"hi":2.19},
{"i":69,"g":"T","v":1.62,"lo":1.22,"hi":2.02},{"i":69,"g":"H","v":2.05,"lo":1.81,"hi":2.29},
{"i":70,"g":"T","v":5.11,"lo":4.74,"hi":5.48,"s":"*"},{"i":70,"g":"H","v":2.02,"lo":1.9,"hi":2.14},
{"i":71,"g":"T","v":8.88,"lo":8.61,"hi":9.15,"s":"*"},{"i":71,"g":"H","v":3.47,"lo":3.35,"hi":3.59},
{"i":72,"g":"T","v":2.61,"lo":2.24,"hi":2.98},{"i":72,"g":"H","v":1.38,"lo":1.26,"hi":1.5},
{"i":73,"g":"T","v":6.1,"lo":5.5,"hi":6.7,"s":"*"},{"i":73,"g":"H","v":1.14,"lo":0.9,"hi":1.38},
{"i":74,"g":"T","v":9.81,"lo":9.3,"hi":10.32,"s":"*"},{"i":74,"g":"H","v":1.14,"lo":0.9,"hi":1.38},
{"i":75,"g":"T","v":6.8,"lo":6.38,"hi":7.22,"s":"*"},{"i":75,"g":"H","v":1.78,"lo":1.66,"hi":1.9},
{"i":76,"g":"T","v":3.19,"lo":2.31,"hi":4.07,"s":"*"},{"i":76,"g":"H","v":2.02,"lo":1.9,"hi":2.14},
{"i":77,"g":"T","v":1.5,"lo":1.22,"hi":1.78},{"i":77,"g":"H","v":2.11,"lo":1.99,"hi":2.23},
{"i":78,"g":"T","v":2.61,"lo":2.24,"hi":2.98,"s":"*"},{"i":78,"g":"H","v":1.38,"lo":1.26,"hi":1.5},
{"i":79,"g":"T","v":3.35,"lo":3.07,"hi":3.63,"s":"*"},{"i":79,"g":"H","v":1.26,"lo":1.14,"hi":1.38},
{"i":80,"g":"T","v":7.58,"lo":6.92,"hi":8.24,"s":"*"},{"i":80,"g":"H","v":1.71,"lo":1.59,"hi":1.83},
{"i":81,"g":"T","v":8.66,"lo":7.99,"hi":9.33,"s":"*"},{"i":81,"g":"H","v":1.68,"lo":1.56,"hi":1.8},
{"i":82,"g":"T","v":2.61,"lo":2.24,"hi":2.98,"s":"*"},{"i":82,"g":"H","v":1.32,"lo":1.2,"hi":1.44},
{"i":83,"g":"T","v":2.07,"lo":1.79,"hi":2.35},{"i":83,"g":"H","v":3.47,"lo":3.37,"hi":3.57,"s":"#"},
{"i":84,"g":"T","v":3.13,"lo":2.39,"hi":3.87,"s":"*"},{"i":84,"g":"H","v":1.68,"lo":1.56,"hi":1.8},
{"i":85,"g":"T","v":2.07,"lo":1.64,"hi":2.5},{"i":85,"g":"H","v":2.35,"lo":2.23,"hi":2.47},
{"i":86,"g":"T","v":4.18,"lo":3.79,"hi":4.57,"s":"*"},{"i":86,"g":"H","v":1.38,"lo":1.14,"hi":1.62},
{"i":87,"g":"T","v":2.83,"lo":2.25,"hi":3.41,"s":"*"},{"i":87,"g":"H","v":1.36,"lo":1.12,"hi":1.6},
{"i":88,"g":"T","v":6.44,"lo":6.08,"hi":6.8,"s":"*"},{"i":88,"g":"H","v":1.26,"lo":1.14,"hi":1.38}
]
},
"vconcat":[
{
"title":{"text":"a","offset":25},
"width":1112,"height":306,
"data":{"name":"a"},
"encoding":{
 "x":{"field":"i","type":"ordinal","scale":{"paddingInner":0.15,"paddingOuter":1.075,"align":0.267},"axis":{"values":[10,20,30,40,50,60,70,80],"labels":false,"title":"Hepatocellular carcinoma patients (n=88)","titlePadding":9,"titleX":588}},
 "xOffset":{"field":"g","type":"nominal","scale":{"domain":["T","H"]}}
},
"layer":[
 {"mark":{"type":"bar","stroke":"#000","strokeWidth":0.6},
  "encoding":{"y":{"field":"v","type":"quantitative","title":"Relative TGF-β1 mRNA level","scale":{"domain":[0,11],"nice":false},"axis":{"values":[0,1,2,3,4,5,6,7,8,9,10,11],"labelExpr":"datum.value % 2 == 0 && datum.value <= 10 ? datum.label : ''","titleY":170,"titlePadding":8,"labelPadding":7}},
   "color":{"field":"g","type":"nominal","scale":{"domain":["T","H"],"range":["#000000","#e83232"]},"legend":{"labelExpr":"datum.label == 'T' ? 'Tumor tissues' : 'Healthy tissues'"}}}},
 {"mark":{"type":"rule","color":"#000","strokeWidth":1.2},"encoding":{"y":{"field":"lo","type":"quantitative","title":"Relative TGF-β1 mRNA level"},"y2":{"field":"hi"}}},
 {"mark":{"type":"tick","color":"#000","size":9,"thickness":1.5},"encoding":{"y":{"field":"hi","type":"quantitative","title":"Relative TGF-β1 mRNA level"}}},
 {"mark":{"type":"tick","color":"#000","size":9,"thickness":1.5},"encoding":{"y":{"field":"lo","type":"quantitative","title":"Relative TGF-β1 mRNA level"}}},
 {"transform":[{"filter":"datum.s == '*'"}],"mark":{"type":"text","font":"Liberation Sans","fontSize":24,"fontWeight":"bold","baseline":"alphabetic","dy":6,"color":"#000"},"encoding":{"y":{"field":"hi","type":"quantitative","title":"Relative TGF-β1 mRNA level"},"text":{"field":"s"}}},
 {"transform":[{"filter":"datum.s == '#'"}],"mark":{"type":"text","font":"Liberation Sans","fontSize":9,"baseline":"alphabetic","dy":-2,"color":"#000"},"encoding":{"y":{"field":"hi","type":"quantitative","title":"Relative TGF-β1 mRNA level"},"text":{"field":"s"}}}
]
},
{
"title":{"text":"b","offset":33},
"width":1112,"height":306,
"data":{"name":"b"},
"encoding":{
 "x":{"field":"i","type":"ordinal","scale":{"paddingInner":0.15,"paddingOuter":1.075,"align":0.267},"axis":{"values":[10,20,30,40,50,60,70,80],"labels":false,"title":"Hepatocellular carcinoma patients (n=88)","titlePadding":9,"titleX":576}},
 "xOffset":{"field":"g","type":"nominal","scale":{"domain":["T","H"]}}
},
"layer":[
 {"mark":{"type":"bar","stroke":"#000","strokeWidth":0.6},
  "encoding":{"y":{"field":"v","type":"quantitative","title":"Relative UCA1 level","scale":{"domain":[0,11],"nice":false},"axis":{"values":[0,1,2,3,4,5,6,7,8,9,10,11],"labelExpr":"datum.value % 2 == 0 && datum.value <= 10 ? datum.label : ''","titleY":172,"titlePadding":8,"labelPadding":7}},
   "color":{"field":"g","type":"nominal","scale":{"domain":["T","H"],"range":["#000000","#e83232"]},"legend":{"labelExpr":"datum.label == 'T' ? 'Tumor tissues' : 'Healthy tissues'"}}}},
 {"mark":{"type":"rule","color":"#000","strokeWidth":1.2},"encoding":{"y":{"field":"lo","type":"quantitative","title":"Relative UCA1 level"},"y2":{"field":"hi"}}},
 {"mark":{"type":"tick","color":"#000","size":9,"thickness":1.5},"encoding":{"y":{"field":"hi","type":"quantitative","title":"Relative UCA1 level"}}},
 {"mark":{"type":"tick","color":"#000","size":9,"thickness":1.5},"encoding":{"y":{"field":"lo","type":"quantitative","title":"Relative UCA1 level"}}},
 {"transform":[{"filter":"datum.s == '*'"}],"mark":{"type":"text","font":"Liberation Sans","fontSize":24,"fontWeight":"bold","baseline":"alphabetic","dy":6,"color":"#000"},"encoding":{"y":{"field":"hi","type":"quantitative","title":"Relative UCA1 level"},"text":{"field":"s"}}},
 {"transform":[{"filter":"datum.s == '#'"}],"mark":{"type":"text","font":"Liberation Sans","fontSize":9,"baseline":"alphabetic","dy":-2,"color":"#000"},"encoding":{"y":{"field":"hi","type":"quantitative","title":"Relative UCA1 level"},"text":{"field":"s"}}}
]
},
{
"title":{"text":"c","offset":5},
"width":1112,"height":306,
"data":{"name":"c"},
"encoding":{
 "x":{"field":"i","type":"ordinal","scale":{"paddingInner":0.15,"paddingOuter":1.075,"align":0.267},"axis":{"values":[10,20,30,40,50,60,70,80],"labels":false,"title":"Hepatocellular carcinoma patients (n=88)","titlePadding":9,"titleX":579}},
 "xOffset":{"field":"g","type":"nominal","scale":{"domain":["T","H"]}}
},
"layer":[
 {"mark":{"type":"bar","stroke":"#000","strokeWidth":0.6},
  "encoding":{"y":{"field":"v","type":"quantitative","title":"Relative HXK mRNA level","scale":{"domain":[0,11],"nice":false},"axis":{"values":[0,1,2,3,4,5,6,7,8,9,10,11],"labelExpr":"datum.value % 2 == 0 && datum.value <= 10 ? datum.label : ''","titleY":138,"titlePadding":8,"labelPadding":7}},
   "color":{"field":"g","type":"nominal","scale":{"domain":["T","H"],"range":["#000000","#e83232"]},"legend":{"labelExpr":"datum.label == 'T' ? 'Tumor tissues' : 'Healthy tissues'"}}}},
 {"mark":{"type":"rule","color":"#000","strokeWidth":1.2},"encoding":{"y":{"field":"lo","type":"quantitative","title":"Relative HXK mRNA level"},"y2":{"field":"hi"}}},
 {"mark":{"type":"tick","color":"#000","size":9,"thickness":1.5},"encoding":{"y":{"field":"hi","type":"quantitative","title":"Relative HXK mRNA level"}}},
 {"mark":{"type":"tick","color":"#000","size":9,"thickness":1.5},"encoding":{"y":{"field":"lo","type":"quantitative","title":"Relative HXK mRNA level"}}},
 {"transform":[{"filter":"datum.s == '*'"}],"mark":{"type":"text","font":"Liberation Sans","fontSize":24,"fontWeight":"bold","baseline":"alphabetic","dy":6,"color":"#000"},"encoding":{"y":{"field":"hi","type":"quantitative","title":"Relative HXK mRNA level"},"text":{"field":"s"}}},
 {"transform":[{"filter":"datum.s == '#'"}],"mark":{"type":"text","font":"Liberation Sans","fontSize":9,"baseline":"alphabetic","dy":-2,"color":"#000"},"encoding":{"y":{"field":"hi","type":"quantitative","title":"Relative HXK mRNA level"},"text":{"field":"s"}}}
]
}
]
}
